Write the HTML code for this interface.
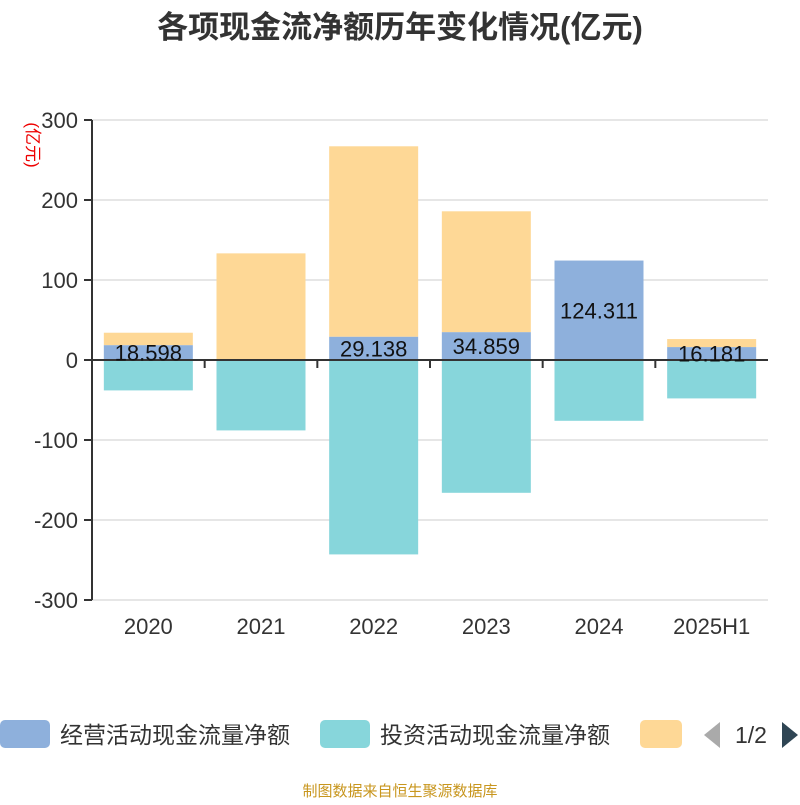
<!DOCTYPE html>
<html><head><meta charset="utf-8"><style>
body{margin:0;background:#fff;font-family:"Liberation Sans","Noto Sans CJK SC",sans-serif}
</style></head><body>
<svg id="c" width="800" height="800" xmlns="http://www.w3.org/2000/svg">
<text x="400" y="38" text-anchor="middle" font-size="31" font-weight="bold" fill="#333" font-family="Liberation Sans,Noto Sans CJK SC,sans-serif">各项现金流净额历年变化情况(亿元)</text>
<text transform="translate(27,145) rotate(90)" text-anchor="middle" font-size="17" fill="#e00" font-family="Liberation Sans,Noto Sans CJK SC,sans-serif">(亿元)</text>
<g id="grid"></g><g id="bars"></g><g id="axes"></g>
<g font-family="Liberation Sans,Noto Sans CJK SC,sans-serif" font-size="23" fill="#333">
<rect x="0" y="720" width="50" height="28" rx="5" fill="#8eb0dc"/>
<text x="60" y="743">经营活动现金流量净额</text>
<rect x="320" y="720" width="50" height="28" rx="5" fill="#87d6db"/>
<text x="380" y="743">投资活动现金流量净额</text>
<rect x="640" y="720" width="42" height="28" rx="5" fill="#fed896"/>
<path d="M720,722 L704,735 L720,748Z" fill="#aaa"/>
<text x="751" y="743" text-anchor="middle">1/2</text>
<path d="M782,722 L798,735 L782,748Z" fill="#2f4554"/>
</g>
<text x="400" y="796" text-anchor="middle" font-size="15" fill="#c8961e" font-family="Liberation Sans,Noto Sans CJK SC,sans-serif">制图数据来自恒生聚源数据库</text>
</svg>
<script>
const categories=["2020","2021","2022","2023","2024","2025H1"];
const operating=[18.598,0.3,29.138,34.859,124.311,16.181];
const investing=[-38,-88,-243,-166,-76,-48];
const financing=[15.5,133,238,151,0,10];
const yTicks=[300,200,100,0,-100,-200,-300];
const NS="http://www.w3.org/2000/svg";
const x0=92,x1=768,cw=(x1-x0)/categories.length,bw=89;
const y=v=>360-v*0.8;
const xc=i=>x0+cw*(i+0.5);
function mk(p,tag,a){const e=document.createElementNS(NS,tag);for(const k in a)e.setAttribute(k,a[k]);p.appendChild(e);return e;}
const g=document.getElementById('grid'),b=document.getElementById('bars'),ax=document.getElementById('axes');
yTicks.forEach(t=>{
 const l=mk(g,'line',{x1:x0,x2:x1,y1:y(t),y2:y(t),stroke:'#ccc','stroke-width':1});
 
 
 const tk=mk(ax,'line',{x1:x0-8,x2:x0,y1:y(t),y2:y(t),stroke:'#333','stroke-width':2});
 
 
 const tx=mk(ax,'text',{x:x0-14,y:y(t)+8,'text-anchor':'end','font-size':22,fill:'#333'});
 tx.textContent=t;
 
 
});
const ya=mk(ax,'line',{x1:x0,x2:x0,y1:y(300),y2:y(-300),stroke:'#333','stroke-width':2});


const xa=mk(ax,'line',{x1:x0,x2:x1,y1:y(0),y2:y(0),stroke:'#333','stroke-width':2});


categories.forEach((c,i)=>{
 const tk=mk(ax,'line',{x1:x0+cw*i,x2:x0+cw*i,y1:y(0),y2:y(0)+8,stroke:'#333','stroke-width':2});
 
 
 const tx=mk(ax,'text',{x:xc(i),y:634,'text-anchor':'middle','font-size':22,fill:'#333'});
 tx.textContent=c;
 
 
 let pos=0,neg=0;
 [[operating,'#8eb0dc','bar-operating'],[investing,'#87d6db','bar-investing'],[financing,'#fed896','bar-financing']].forEach(([arr,col,nm])=>{
  const v=arr[i];let a,bb;
  if(v>=0){a=pos;bb=pos+v;pos=bb;}else{a=neg;bb=neg+v;neg=bb;}
  const r=mk(b,'rect',{x:xc(i)-bw/2,y:Math.min(y(a),y(bb)),width:bw,height:Math.abs(y(a)-y(bb)),fill:col});
  
  
 });
});
categories.forEach((c,i)=>{
 const v=operating[i];if(v<5)return;
 const t=mk(ax,'text',{x:xc(i),y:y(v/2)+8,'text-anchor':'middle','font-size':22,fill:'#111'});
 t.textContent=v.toFixed(3);
 
 
});
</script>
</body></html>
